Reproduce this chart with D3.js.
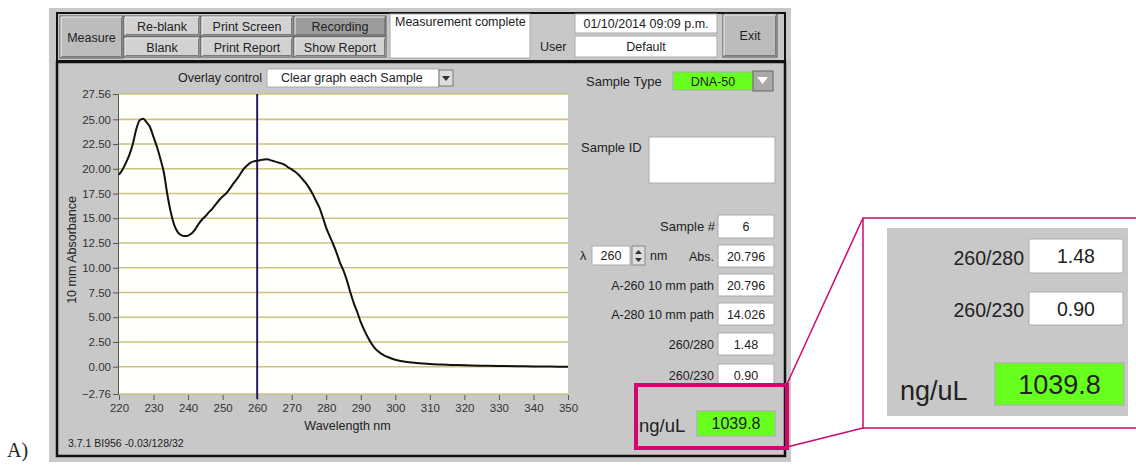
<!DOCTYPE html>
<html lang="en">
<head>
<meta charset="UTF-8">
<title>Absorbance spectrum - DNA-50</title>
<script src="https://d3js.org/d3.v7.min.js"></script>
<style>
    body { margin: 0; background: #fff; }
    svg { display: block; font-family: "Liberation Sans", Arial, sans-serif; }
    .axis text { font-size: 11.5px; fill: #333; }
    .axis path, .axis line { stroke: #555; }
</style>
</head>
<body>
<div id="chart"></div>
<script>
    // spectrum (nm, 10 mm absorbance)
    const wavelengths = [220, 221, 222, 223, 224, 225, 226, 227, 228, 229,
        230, 231, 232, 233, 234, 235, 236, 237, 238, 239,
        240, 241, 242, 243, 244, 245, 246, 247, 248, 249,
        250, 251, 252, 253, 254, 255, 256, 257, 258, 259,
        260, 261, 262, 263, 264, 265, 266, 267, 268, 269,
        270, 271, 272, 273, 274, 275, 276, 277, 278, 279,
        280, 281, 282, 283, 284, 285, 286, 287, 288, 289,
        290, 291, 292, 293, 294, 295, 296, 297, 298, 300,
        302, 304, 306, 308, 310, 313, 316, 320, 325, 330,
        335, 340, 345, 350];
    const absorbance = [19.4, 19.9, 20.6, 21.4, 22.5, 24.0, 24.9, 25.05, 24.7, 24.2,
        23.2, 22.2, 21.0, 19.6, 17.4, 15.6, 14.3, 13.6, 13.3, 13.2,
        13.25, 13.45, 13.85, 14.4, 14.85, 15.2, 15.6, 15.95, 16.4, 16.85,
        17.2, 17.5, 17.95, 18.45, 18.9, 19.4, 19.95, 20.3, 20.6, 20.75,
        20.8, 20.88, 20.95, 20.96, 20.85, 20.75, 20.65, 20.55, 20.4, 20.15,
        19.95, 19.7, 19.4, 19.0, 18.6, 18.1, 17.5, 16.8, 16.1, 15.1,
        14.03, 13.2, 12.4, 11.5, 10.5, 9.7, 8.7, 7.5, 6.4, 5.5,
        4.5, 3.7, 3.0, 2.4, 1.9, 1.55, 1.3, 1.1, 0.95, 0.7,
        0.55, 0.45, 0.38, 0.32, 0.27, 0.22, 0.18, 0.14, 0.1, 0.07,
        0.05, 0.03, 0.01, 0.0];

    const yTicks = [27.56, 25, 22.5, 20, 17.5, 15, 12.5, 10, 7.5, 5, 2.5, 0, -2.76];
    const xTicks = [220, 230, 240, 250, 260, 270, 280, 290, 300, 310, 320, 330, 340, 350];
    const cursorNm = 260;

    const readoutLabels = ["Abs.", "A-260 10 mm path", "A-280 10 mm path", "260/280", "260/230"];
    const readoutValues = ["20.796", "20.796", "14.026", "1.48", "0.90"];
    const concentration = "1039.8";
    const sampleType = "DNA-50";
    const sampleNumber = "6";

    const W = 1136, H = 465;
    const svg = d3.select("#chart").append("svg")
        .attr("width", W).attr("height", H);

    const gray = "#c8c8c8";
    const pink = "#d0076e";
    const green = "#66ff1e";

    // window background
    svg.append("rect").attr("x", 49).attr("y", 8).attr("width", 742).attr("height", 454).attr("fill", gray);
    svg.append("rect").attr("x", 57).attr("y", 13).attr("width", 728).attr("height", 48)
        .attr("fill", "none").attr("stroke", "#111").attr("stroke-width", 2);
    svg.append("rect").attr("x", 57).attr("y", 62).attr("width", 728).attr("height", 394)
        .attr("fill", "none").attr("stroke", "#111").attr("stroke-width", 2.5);

    function button(x, y, w, h, label, fill) {
        const g = svg.append("g");
        g.append("rect").attr("x", x).attr("y", y).attr("width", w).attr("height", h)
            .attr("fill", fill).attr("stroke", "#555");
        g.append("path").attr("d", `M${x + 1},${y + h - 1}V${y + 1}H${x + w - 1}`)
            .attr("fill", "none").attr("stroke", "#eee");
        g.append("path").attr("d", `M${x + 1.5},${y + h - 1.5}H${x + w - 1.5}V${y + 1.5}`)
            .attr("fill", "none").attr("stroke", "#7a7a7a");
        g.append("text").attr("x", x + w / 2).attr("y", y + h / 2 + 4.5)
            .attr("text-anchor", "middle").attr("font-size", 12.5).attr("fill", "#222").text(label);
    }

    function field(x, y, w, h, value, fill, size) {
        svg.append("rect").attr("x", x).attr("y", y).attr("width", w).attr("height", h)
            .attr("fill", fill || "#fff").attr("stroke", "#aaa");
        if (value !== undefined) {
            svg.append("text").attr("x", x + w / 2).attr("y", y + h / 2 + (size || 12) * 0.36)
                .attr("text-anchor", "middle").attr("font-size", size || 12).attr("fill", "#222").text(value);
        }
    }

    function label(x, y, txt, anchor, size, fam) {
        return svg.append("text").attr("x", x).attr("y", y).attr("text-anchor", anchor || "start")
            .attr("font-size", size || 12.5).attr("fill", "#222")
            .attr("font-family", fam || null).text(txt);
    }

    // toolbar
    button(60, 16, 63, 42, "Measure", "#bcbcbc");
    button(124, 16, 76, 20, "Re-blank", "#d2d2d2");
    button(124, 37, 76, 20, "Blank", "#d2d2d2");
    button(201, 16, 92, 20, "Print Screen", "#d2d2d2");
    button(201, 37, 92, 20, "Print Report", "#d2d2d2");
    button(294, 16, 92, 20, "Recording", "#9c9c9c");
    button(294, 37, 92, 20, "Show Report", "#d2d2d2");
    field(390, 14, 140, 44);
    label(395, 26, "Measurement complete", "start", 12.5);
    field(575, 14, 142, 19, "01/10/2014  09:09 p.m.", "#fff", 12.5);
    label(540, 51, "User", "start", 12.5);
    field(575, 36, 142, 21, "Default", "#fff", 12.5);
    button(723, 14, 54, 43, "Exit", "#bcbcbc");

    // overlay control
    label(262, 82, "Overlay control", "end", 12.5);
    field(267, 69, 172, 18);
    label(281, 82, "Clear graph each Sample", "start", 12.5);
    svg.append("rect").attr("x", 439).attr("y", 70).attr("width", 14).attr("height", 16)
        .attr("fill", "#ddd").attr("stroke", "#777");
    svg.append("path").attr("d", "M442,76L446,81L450,76Z").attr("fill", "#333");

    // plot
    const x = d3.scaleLinear().domain([220, 350]).range([119, 568]);
    const y = d3.scaleLinear().domain([-2.76, 27.56]).range([394, 94]);

    svg.append("rect").attr("x", x(220)).attr("y", y(27.56))
        .attr("width", x(350) - x(220)).attr("height", y(-2.76) - y(27.56)).attr("fill", "#fffffb");

    svg.append("g").selectAll("line").data(yTicks).join("line")
        .attr("x1", x(220)).attr("x2", x(350))
        .attr("y1", d => y(d)).attr("y2", d => y(d))
        .attr("stroke", "#cbc47f").attr("stroke-width", 1.6);

    svg.append("g").attr("class", "axis")
        .attr("transform", `translate(${x(220) - 1},0)`)
        .call(d3.axisLeft(y).tickValues(yTicks).tickFormat(d3.format(".2f")).tickSize(5).tickPadding(2))
        .call(g => g.select(".domain").attr("stroke", "#888"));

    svg.append("g").attr("class", "axis")
        .attr("transform", `translate(0,${y(-2.76) + 1})`)
        .call(d3.axisBottom(x).tickValues(xTicks).tickFormat(d3.format("d")).tickSize(5).tickPadding(4))
        .call(g => g.select(".domain").remove())
        .call(g => g.selectAll("text").attr("font-size", 12.5));

    svg.append("line")
        .attr("x1", x(cursorNm)).attr("x2", x(cursorNm))
        .attr("y1", y(27.56)).attr("y2", y(-2.76) + 5)
        .attr("stroke", "#2b1d5c").attr("stroke-width", 2);

    const spectrum = wavelengths.map((w, i) => [w, absorbance[i]]);
    svg.append("path").datum(spectrum)
        .attr("fill", "none").attr("stroke", "#111").attr("stroke-width", 2)
        .attr("d", d3.line().x(d => x(d[0])).y(d => y(d[1])).curve(d3.curveMonotoneX));

    svg.append("text")
        .attr("transform", `translate(76,${(y(27.56) + y(-2.76)) / 2 + 6}) rotate(-90)`)
        .attr("text-anchor", "middle").attr("font-size", 12.5).attr("fill", "#222")
        .text("10 mm Absorbance");
    label((x(220) + x(350)) / 2 + 4, 430, "Wavelength nm", "middle", 12.5);
    label(68, 447, "3.7.1 BI956 -0.03/128/32", "start", 10.5);

    // right panel
    label(586, 86, "Sample Type", "start", 13);
    field(673, 72, 80, 18, sampleType, green, 12.5);
    svg.append("rect").attr("x", 753).attr("y", 71).attr("width", 20).attr("height", 20)
        .attr("fill", "#a9a9a9").attr("stroke", "#666");
    svg.append("path").attr("d", "M757,77L768,77L762.5,84Z").attr("fill", "#fff");

    label(581, 152, "Sample ID", "start", 13);
    field(649, 137, 126, 46);
    label(715, 231, "Sample #", "end", 13);
    field(718, 215, 56, 23, sampleNumber, "#fff", 12.5);

    label(580, 260, "\u03bb", "start", 12.5);
    field(592, 246, 38, 19, String(cursorNm), "#fff", 12.5);
    svg.append("rect").attr("x", 632).attr("y", 246).attr("width", 13).attr("height", 19)
        .attr("fill", "#ddd").attr("stroke", "#888");
    svg.append("path").attr("d", "M635,254L638.5,250L642,254ZM635,258L638.5,262L642,258Z").attr("fill", "#333");
    label(650, 260, "nm", "start", 12.5);

    const rowTop = [245, 274, 303, 333, 364];
    readoutLabels.forEach((t, i) => {
        label(714, rowTop[i] + 16, t, "end", 12.5);
        field(718, rowTop[i], 56, 22, readoutValues[i], "#fff", 12.5);
    });

    label(639, 432, "ng/uL", "start", 18.5);
    field(697, 411, 78, 25, concentration, green, 16);
    svg.append("rect").attr("x", 636).attr("y", 385).attr("width", 151).attr("height", 63)
        .attr("fill", "none").attr("stroke", pink).attr("stroke-width", 4);

    // enlarged inset
    svg.append("line").attr("x1", 787).attr("y1", 384).attr("x2", 863).attr("y2", 218)
        .attr("stroke", pink).attr("stroke-width", 1.5);
    svg.append("line").attr("x1", 787).attr("y1", 447).attr("x2", 863).attr("y2", 428)
        .attr("stroke", pink).attr("stroke-width", 1.5);
    svg.append("rect").attr("x", 863).attr("y", 218).attr("width", 290).attr("height", 210)
        .attr("fill", "#fff").attr("stroke", pink).attr("stroke-width", 1.5);
    svg.append("rect").attr("x", 887).attr("y", 228).attr("width", 241).attr("height", 188).attr("fill", gray);

    label(1024, 265, readoutLabels[3], "end", 19.5);
    field(1029, 239, 94, 34, readoutValues[3], "#fff", 19.5);
    label(1024, 317, readoutLabels[4], "end", 19.5);
    field(1029, 292, 94, 33, readoutValues[4], "#fff", 19.5);
    label(900, 400, "ng/uL", "start", 27);
    field(995, 363, 129, 42, concentration, green, 27);

    label(7, 457, "A)", "start", 20, "'Liberation Serif', 'Times New Roman', serif");
</script>
</body>
</html>
